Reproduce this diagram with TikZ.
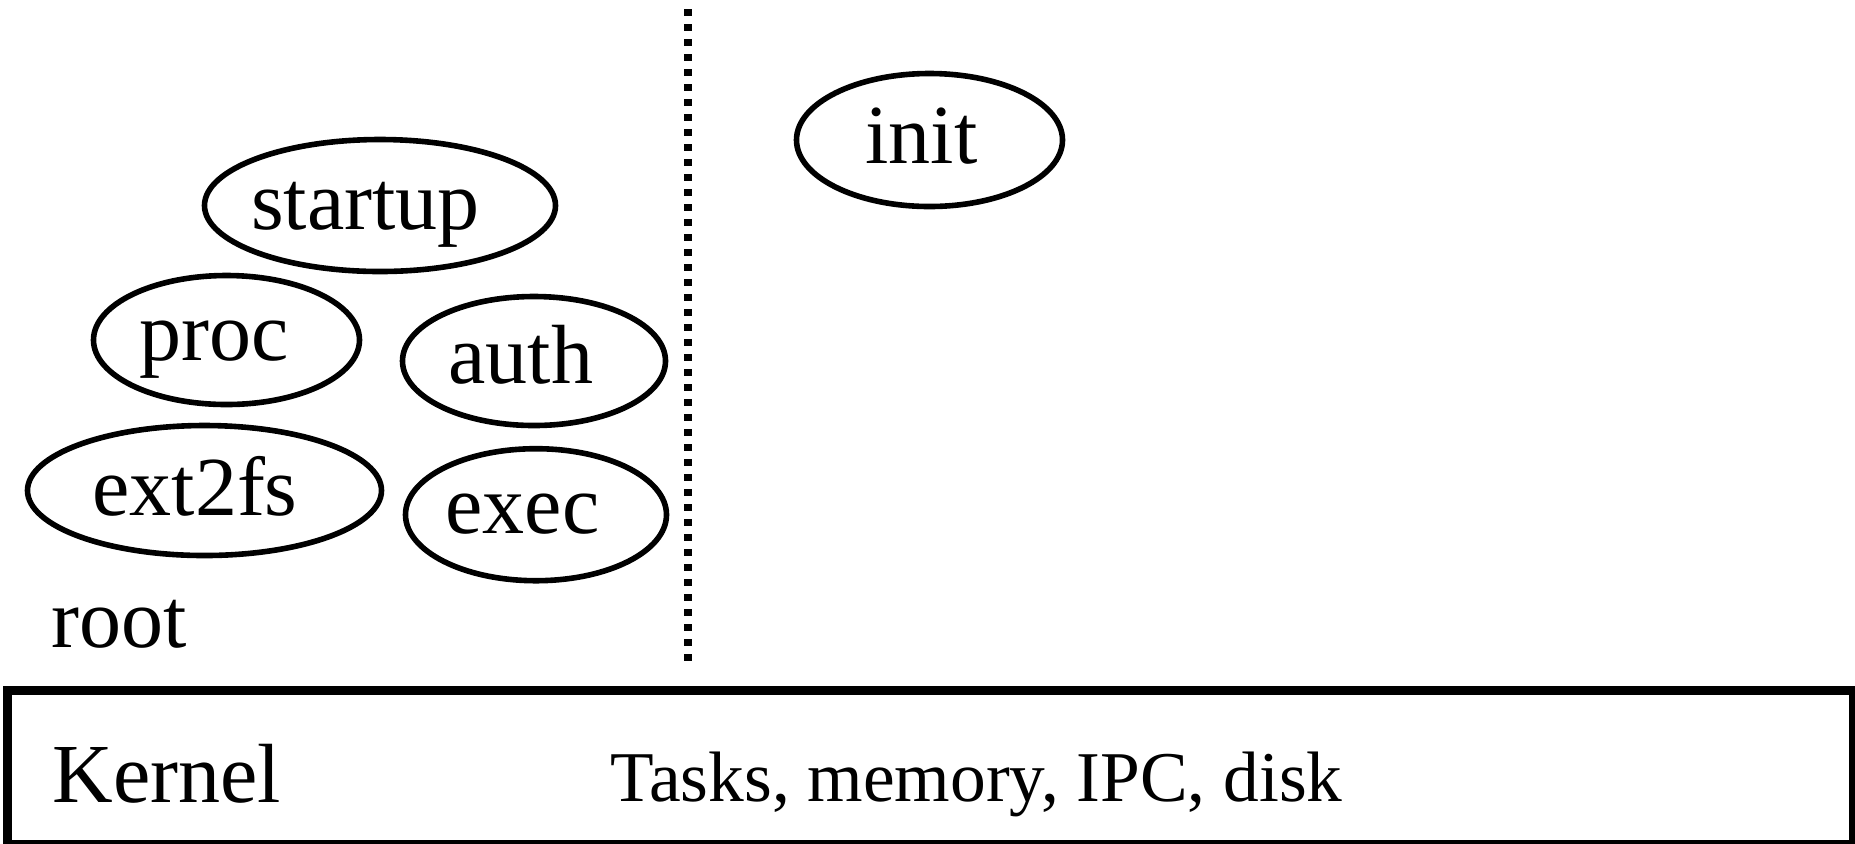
\documentclass[tikz,border=0pt]{standalone}
\usepackage{fontspec}
\setmainfont{Liberation Serif}
\usetikzlibrary{shapes.geometric}
\begin{document}
\begin{tikzpicture}[x=0.5pt,y=-0.5pt,
  server/.style={draw, ellipse, line width=2.8pt, inner sep=0pt},
  srvname/.style={inner sep=0pt, anchor=base,
    font=\fontsize{42pt}{50pt}\selectfont},
  label/.style={inner sep=0pt, anchor=base west,
    font=\fontsize{42pt}{50pt}\selectfont},
  small/.style={inner sep=0pt, anchor=base west,
    font=\fontsize{35.7pt}{43pt}\selectfont}]
\useasboundingbox (0,0) rectangle (1855,843);

% user space / kernel space separator
\coordinate (sepTop) at (688,9);
\coordinate (sepBot) at (688,668);
\draw[line width=3.75pt, dash pattern=on 3.6pt off 3.9pt] (sepTop) -- (sepBot);

% server processes
\node[server, minimum width=175.5pt, minimum height=66pt] (startup) at (380,205.5) {};
\node[server, minimum width=133pt, minimum height=64.5pt] (procsrv) at (226.5,340) {};
\node[server, minimum width=131.5pt, minimum height=64.5pt] (auth) at (534,361) {};
\node[server, minimum width=177pt, minimum height=65pt] (ext2fs) at (204.5,490.5) {};
\node[server, minimum width=130.5pt, minimum height=66pt] (exec) at (536,514.7) {};
\node[server, minimum width=133pt, minimum height=66.5pt] (init) at (929.5,140) {};

\node[srvname] (startupName) at (365.5,229) {startup};
\node[srvname] (procName) at (214.5,360) {proc};
\node[srvname] (authName) at (521,383) {auth};
\node[srvname] (ext2fsName) at (195,515) {ext2fs};
\node[srvname] (execName) at (522.5,533) {exec};
\node[srvname] (initName) at (921.5,163) {init};

\node[label] (root) at (51.5,647) {root};

% kernel layer
\draw[line width=4.25pt] (7.5,690.5) rectangle (1853.5,844.5);
\node[label] (kernel) at (52,802) {Kernel};
\node[small] (services) at (610,801) {Tasks, memory, IPC, disk};
\end{tikzpicture}
\end{document}
